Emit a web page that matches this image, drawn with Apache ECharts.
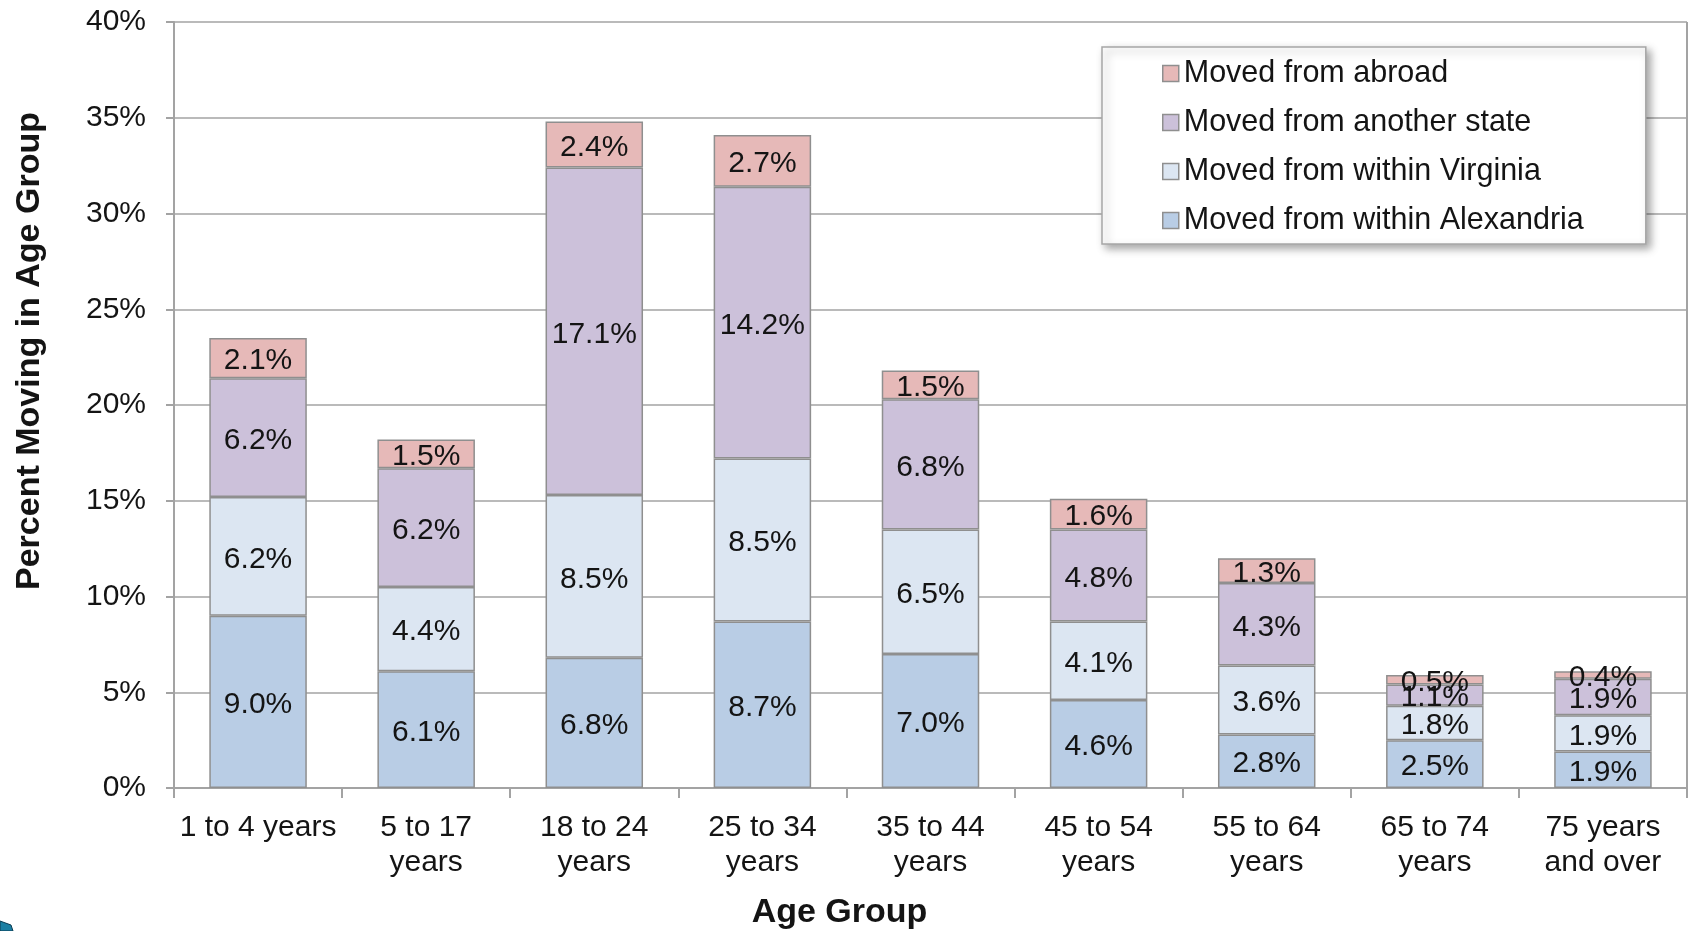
<!DOCTYPE html>
<html>
<head>
<meta charset="utf-8">
<title>Percent Moving in Age Group</title>
<script src="https://cdn.jsdelivr.net/npm/echarts@6/dist/echarts.min.js"></script>
<style>
  html, body { margin: 0; padding: 0; background: #fff; }
  #chart { width: 1692px; height: 931px; }
</style>
</head>
<body>
<div id="chart"></div>
<script>
// Age groups along the x axis
const categories = [
  '1 to 4 years', '5 to 17\nyears', '18 to 24\nyears', '25 to 34\nyears',
  '35 to 44\nyears', '45 to 54\nyears', '55 to 64\nyears', '65 to 74\nyears',
  '75 years\nand over'
];

// Share of each age group that moved, by origin (percent)
const withinAlexandria = [9.0, 6.1, 6.8, 8.7, 7.0, 4.6, 2.8, 2.5, 1.9];
const withinVirginia   = [6.2, 4.4, 8.5, 8.5, 6.5, 4.1, 3.6, 1.8, 1.9];
const anotherState     = [6.2, 6.2, 17.1, 14.2, 6.8, 4.8, 4.3, 1.1, 1.9];
const fromAbroad       = [2.1, 1.5, 2.4, 2.7, 1.5, 1.6, 1.3, 0.5, 0.4];

const seriesNames = [
  'Moved from within Alexandria',
  'Moved from within Virginia',
  'Moved from another state',
  'Moved from abroad'
];
const legendOrder = [
  'Moved from abroad',
  'Moved from another state',
  'Moved from within Virginia',
  'Moved from within Alexandria'
];

// Y axis range and step (percent)
const yMin = 0, yMax = 40, yStep = 5;

const FONT = "'Liberation Sans', Arial, Helvetica, sans-serif";
const TEXT = '#141414';
const LINE = '#a3a3a3';
const BORDER = '#8f8f8f';
const fills = ['#b9cde5', '#dce6f2', '#ccc1da', '#e6b9b8'];

const chart = echarts.init(document.getElementById('chart'), null, { renderer: 'canvas' });

function barSeries(name, values, color) {
  return {
    name: name,
    type: 'bar',
    stack: 'moves',
    barCategoryGap: '42%',
    data: values,
    itemStyle: { color: color, borderColor: BORDER, borderWidth: 1.5 },
    label: {
      show: true,
      position: 'inside',
      offset: [0, 3],
      fontFamily: FONT,
      fontSize: 30,
      color: TEXT,
      formatter: p => p.value.toFixed(1) + '%'
    },
    emphasis: { disabled: true }
  };
}

chart.setOption({
  animation: false,
  backgroundColor: '#fff',
  textStyle: { fontFamily: FONT, color: TEXT },
  grid: {
    left: 174, right: 5, top: 22, bottom: 143,
    containLabel: false,
    outerBoundsMode: 'none'
  },
  legend: {
    orient: 'vertical',
    left: 1102,
    top: 47,
    padding: [11, 62, 8, 60],
    itemGap: 18,
    itemWidth: 16,
    itemHeight: 16,
    itemTextGap: 7,
    icon: 'rect',
    data: legendOrder,
    selectedMode: false,
    backgroundColor: '#fff',
    borderColor: '#a6a6a6',
    borderWidth: 1.5,
    shadowBlur: 8,
    shadowColor: 'rgba(0,0,0,0.35)',
    shadowOffsetX: 4,
    shadowOffsetY: 4,
    itemStyle: { borderColor: BORDER, borderWidth: 1.5 },
    textStyle: { fontFamily: FONT, fontSize: 30.5, lineHeight: 30, color: TEXT }
  },
  xAxis: {
    type: 'category',
    data: categories,
    name: 'Age Group',
    nameLocation: 'middle',
    nameGap: 108,
    nameTextStyle: {
      fontFamily: FONT, fontSize: 34, fontWeight: 'bold', color: TEXT,
      padding: [0, 182, 0, 0]
    },
    axisLine: { lineStyle: { color: LINE, width: 2 } },
    axisTick: { show: true, alignWithLabel: false, length: 10, lineStyle: { color: LINE, width: 2 } },
    axisLabel: { fontFamily: FONT, fontSize: 30, lineHeight: 35, color: TEXT, margin: 22, interval: 0 },
    splitLine: { show: false }
  },
  yAxis: {
    type: 'value',
    min: yMin,
    max: yMax,
    interval: yStep,
    name: 'Percent Moving in Age Group',
    nameLocation: 'middle',
    nameGap: 127,
    nameRotate: 90,
    nameTextStyle: {
      fontFamily: FONT, fontSize: 34, fontWeight: 'bold', color: TEXT,
      padding: [0, 0, 0, 108]
    },
    axisLine: { show: true, lineStyle: { color: LINE, width: 2 } },
    axisTick: { show: true, inside: false, length: 8, lineStyle: { color: LINE, width: 2 } },
    axisLabel: { fontFamily: FONT, fontSize: 30, color: TEXT, margin: 28, formatter: '{value}%' },
    splitLine: { show: true, lineStyle: { color: LINE, width: 1.5 } }
  },
  series: [
    barSeries(seriesNames[0], withinAlexandria, fills[0]),
    barSeries(seriesNames[1], withinVirginia, fills[1]),
    barSeries(seriesNames[2], anotherState, fills[2]),
    barSeries(seriesNames[3], fromAbroad, fills[3])
  ],
  graphic: [
    // right border of the plot area
    {
      type: 'line',
      shape: { x1: 1687, y1: 22, x2: 1687, y2: 788 },
      style: { stroke: LINE, lineWidth: 2 },
      z: 5
    },
    // corner of the slide bullet at the bottom left
    {
      type: 'polygon',
      shape: { points: [[0, 921], [11, 925], [13, 931], [0, 931]] },
      style: { fill: '#1b7fa3', stroke: '#0d3c52', lineWidth: 1 },
      z: 5
    }
  ]
});
</script>
</body>
</html>
